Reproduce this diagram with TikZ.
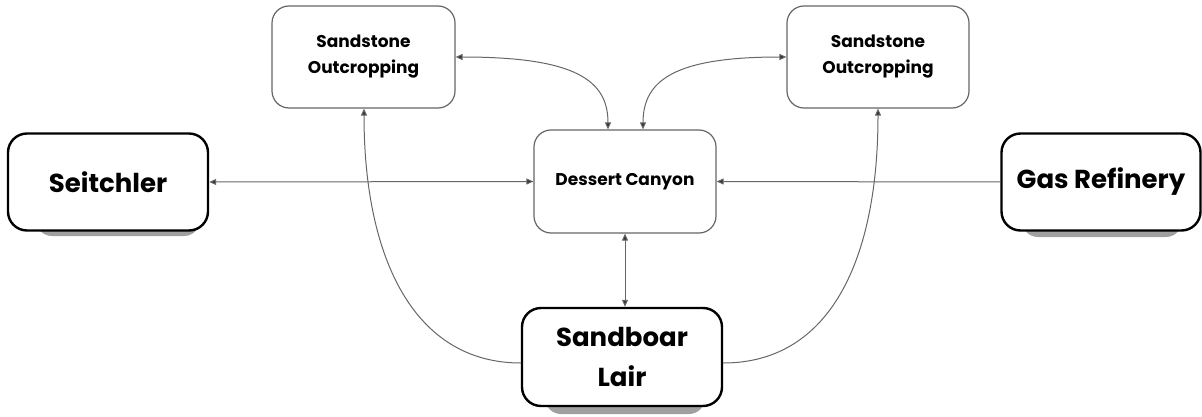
\documentclass[tikz,border=0pt]{standalone}
\usepackage{fontspec}
\setmainfont{Poppins}
\usetikzlibrary{arrows.meta}
\definecolor{thinc}{HTML}{666666}
\definecolor{shad}{HTML}{A0A0A0}
\tikzset{
  thinbox/.style={draw=thinc, line width=1.2pt, rounded corners=17pt, fill=white, inner sep=0pt, align=center, font=\bfseries\fontsize{17}{26}\selectfont},
  boldbox/.style={draw=black, line width=2.4pt, rounded corners=19pt, fill=white, inner sep=0pt, align=center, font=\bfseries\fontsize{26}{40}\selectfont},
  conn/.style={draw=thinc, line width=1pt},
  both/.style={conn, {Triangle[length=7pt,width=6pt,fill=black!80]}-{Triangle[length=7pt,width=6pt,fill=black!80]}},
  endtip/.style={conn, -{Triangle[length=7pt,width=6pt,fill=black!80]}},
}
\begin{document}
\begin{tikzpicture}[x=1pt,y=-1pt]
\useasboundingbox (0,0) rectangle (1202,417);
% shadows
\fill[shad, rounded corners=16pt] (36,150) rectangle (200,236);
\fill[shad, rounded corners=16pt] (1022,150) rectangle (1182,237);
\fill[shad, rounded corners=16pt] (545,330) rectangle (705,414);
% nodes
\node[thinbox, minimum width=183pt, minimum height=102pt] (ssl) at (363.5,57) {Sandstone\\Outcropping};
\node[thinbox, minimum width=182pt, minimum height=102pt] (ssr) at (878,57) {Sandstone\\Outcropping};
\node[thinbox, minimum width=182pt, minimum height=103pt] (dc) at (625,181.5) {Dessert Canyon};
\node[boldbox, minimum width=200pt, minimum height=97pt] (sei) at (108,182) {Seitchler};
\node[boldbox, minimum width=199pt, minimum height=97pt] (gas) at (1101,182) {Gas Refinery};
\node[boldbox, minimum width=200pt, minimum height=98pt] (lair) at (622,357) {Sandboar\\Lair};
% connectors
\draw[both] (sei.east) -- (dc.west);
\draw[conn, {Triangle[length=7pt,width=6pt,fill=black!80]}-] (dc.east) -- (gas.west);
\draw[both] (ssl.east) .. controls (575,57) and (608,80) .. (dc.north -| 608,0);
\draw[both] (ssr.west) .. controls (675,57) and (643,80) .. (dc.north -| 643,0);
\draw[both] (dc.south -| 625,0) -- (lair.north -| 625,0);
\coordinate (ll) at (lair.west |- 0,363);
\coordinate (lr) at (lair.east |- 0,363);
\draw[endtip] (ll) .. controls (415,363) and (364,260) .. (ssl.south -| 364,0);
\draw[endtip] (lr) .. controls (830,363) and (878,260) .. (ssr.south -| 878,0);
\end{tikzpicture}
\end{document}
